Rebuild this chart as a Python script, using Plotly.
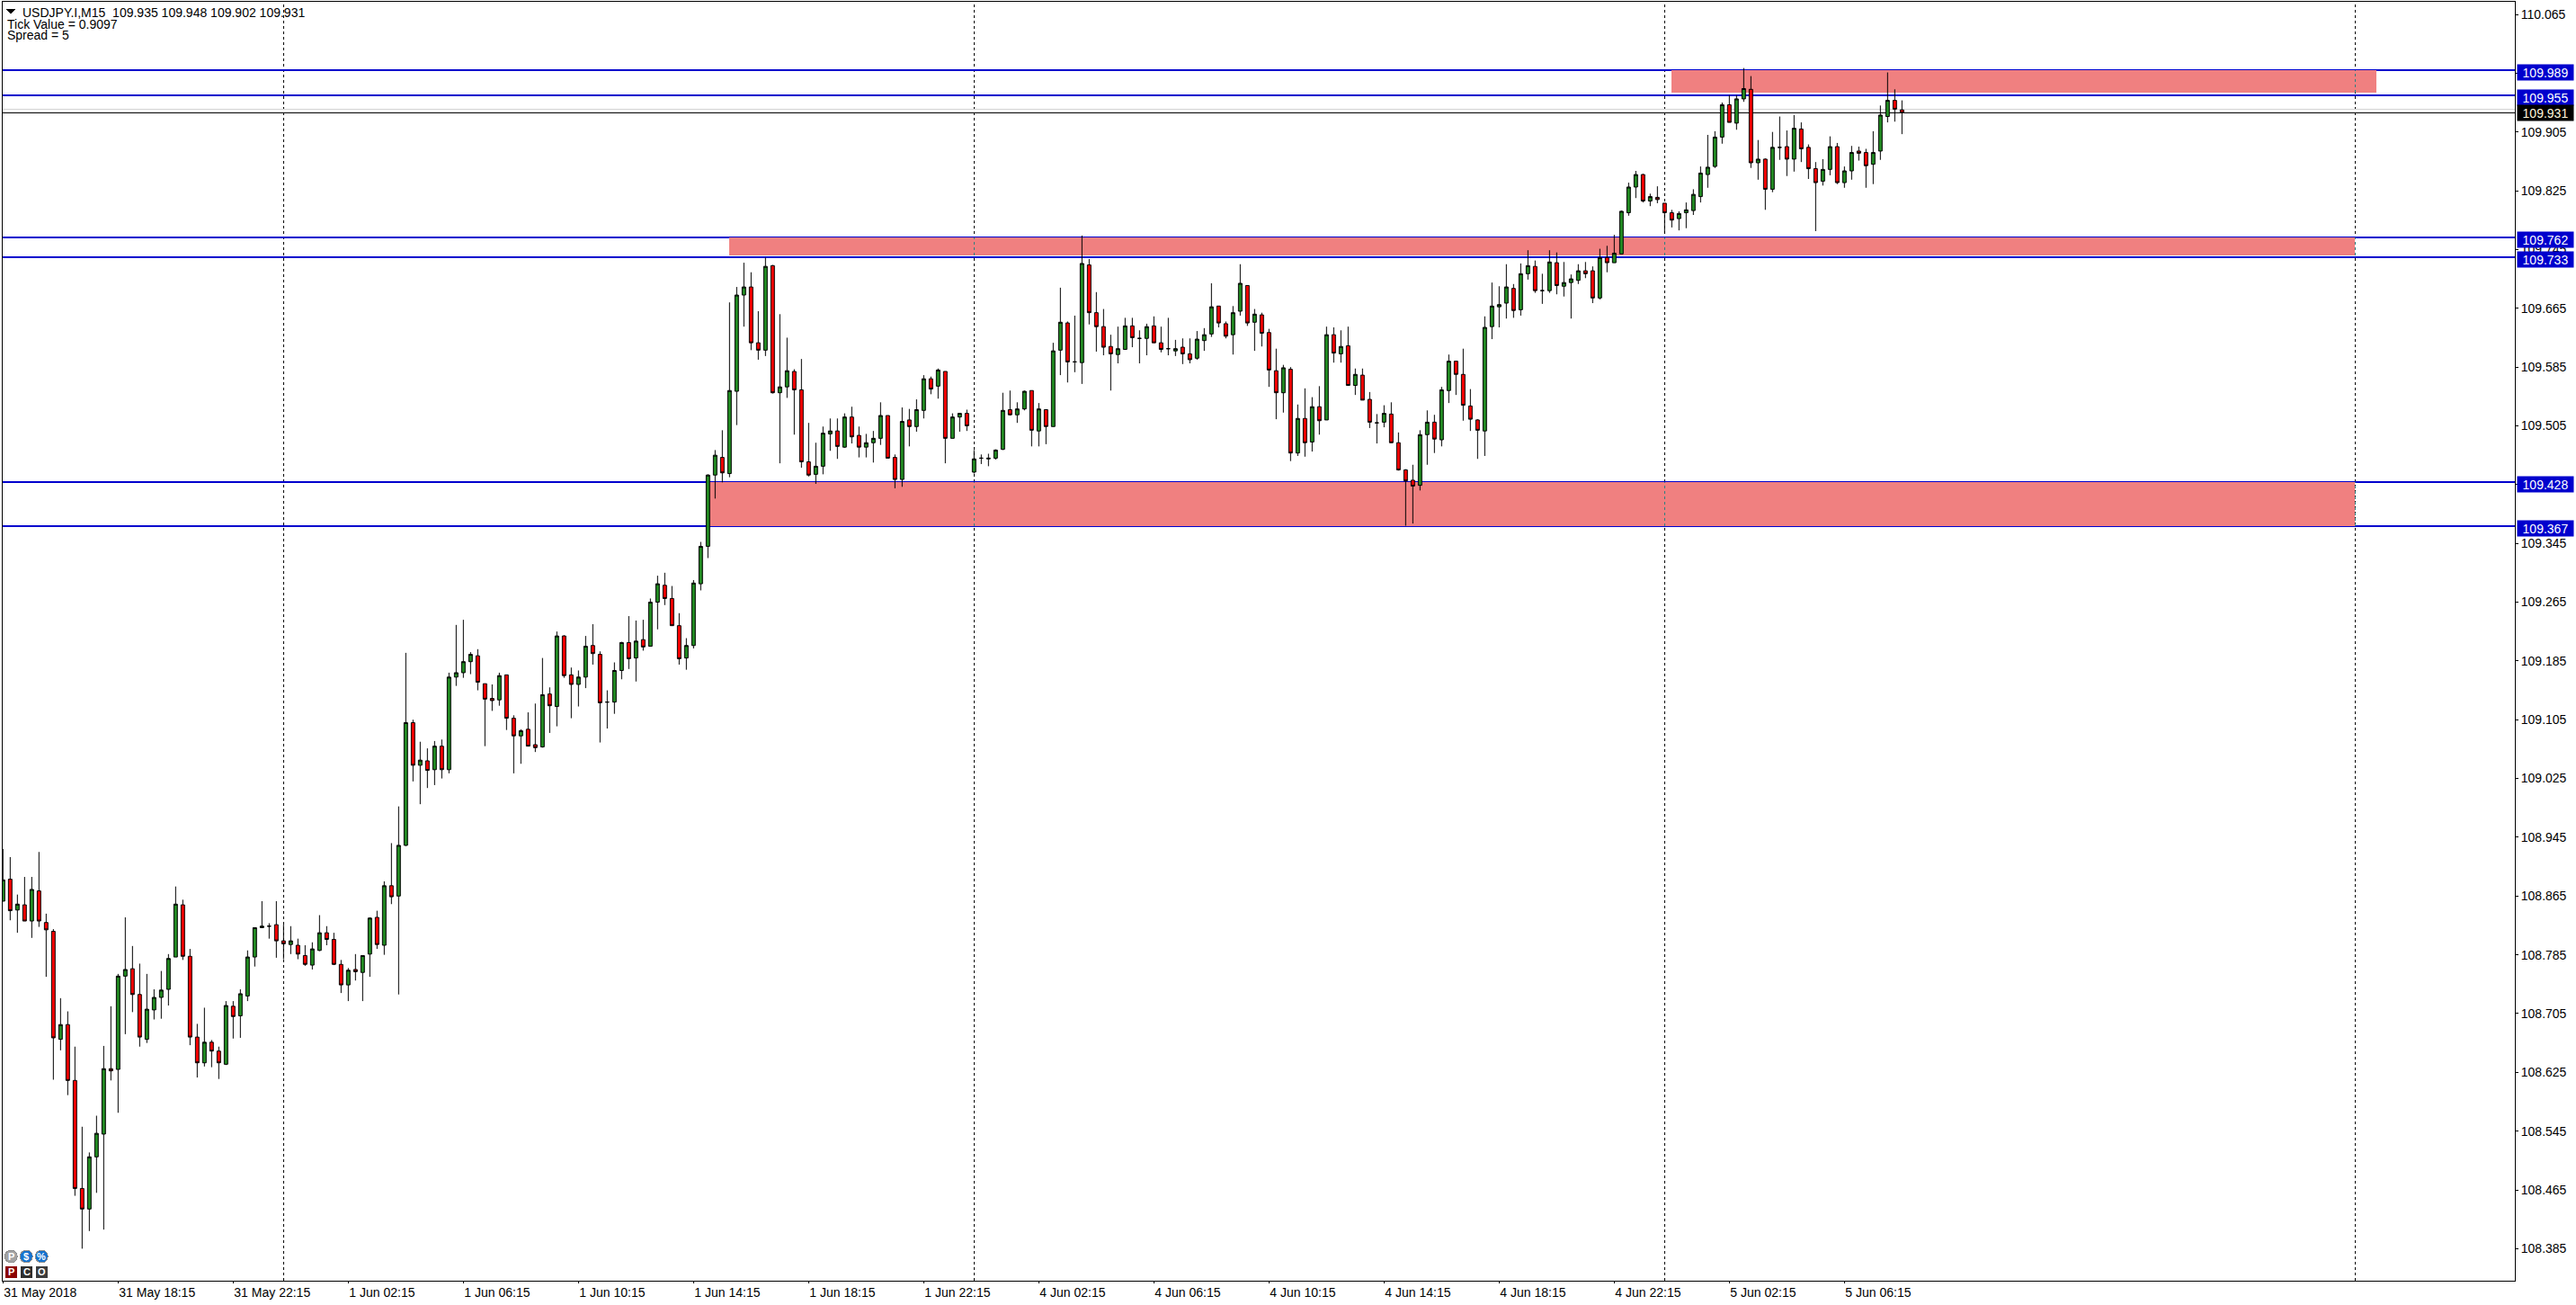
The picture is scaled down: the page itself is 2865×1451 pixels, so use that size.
import plotly.graph_objects as go

W, H = 2865, 1451
ML, MR, MT, MB = 3, 68, 2, 27

opens = [
108.858,108.888,108.846,108.853,108.831,108.872,108.829,108.817,108.670,108.690,
108.614,108.467,108.439,108.510,108.541,108.630,108.629,108.756,108.766,108.731,
108.670,108.710,108.727,108.738,108.782,108.853,108.783,108.673,108.638,108.666,
108.654,108.636,108.715,108.702,108.729,108.782,108.822,108.824,108.826,108.804,
108.799,108.798,108.784,108.771,108.791,108.815,108.806,108.772,108.744,108.765,
108.761,108.786,108.836,108.798,108.879,108.865,108.934,109.101,109.043,109.049,
109.037,109.069,109.037,109.163,109.169,109.184,109.192,109.154,109.134,109.132,
109.166,109.107,109.083,109.092,109.071,109.068,109.140,109.123,109.219,109.166,
109.153,109.163,109.206,109.194,109.129,109.129,109.172,109.210,109.189,109.214,
109.205,109.265,109.288,109.270,109.233,109.189,109.206,109.290,109.341,109.438,
109.462,109.440,109.552,109.683,109.694,109.618,109.608,109.723,109.550,109.558,
109.579,109.554,109.456,109.439,109.450,109.494,109.498,109.476,109.517,109.492,
109.476,109.482,109.488,109.519,109.462,109.432,109.513,109.504,109.526,109.569,
109.559,109.579,109.488,109.517,109.522,109.442,109.461,109.460,109.461,109.473,
109.527,109.520,109.528,109.553,109.498,109.527,109.504,109.608,109.645,109.592,
109.591,109.724,109.659,109.640,109.613,109.602,109.609,109.641,109.624,109.624,
109.641,109.618,109.610,109.607,109.612,109.603,109.597,109.621,109.630,109.668,
109.644,109.629,109.661,109.696,109.646,109.656,109.632,109.580,109.550,109.582,
109.468,109.515,109.483,109.531,109.513,109.629,109.603,109.614,109.560,109.574,
109.541,109.509,109.510,109.521,109.482,109.445,109.431,109.424,109.493,109.510,
109.486,109.553,109.593,109.575,109.532,109.513,109.498,109.640,109.667,109.672,
109.692,109.663,109.712,109.722,109.689,109.689,109.727,109.695,109.700,109.703,
109.716,109.716,109.679,109.734,109.727,109.739,109.795,109.830,109.847,109.811,
109.816,109.808,109.795,109.787,109.795,109.798,109.817,109.847,109.858,109.898,
109.942,109.917,109.950,109.963,109.863,109.868,109.827,109.884,109.885,109.868,
109.909,109.884,109.855,109.838,109.854,109.885,109.836,109.852,109.879,109.877,
109.861,109.879,109.926,109.948,109.935]

highs = [
108.929,108.918,108.867,108.891,108.891,108.925,108.841,108.820,108.726,108.708,
108.660,108.551,108.516,108.566,108.661,108.715,108.759,108.836,108.797,108.773,
108.759,108.738,108.763,108.786,108.878,108.860,108.793,108.691,108.713,108.669,
108.660,108.722,108.722,108.738,108.791,108.822,108.858,108.828,108.858,108.826,
108.824,108.807,108.798,108.802,108.839,108.824,108.815,108.778,108.767,108.786,
108.784,108.836,108.845,108.885,108.937,108.987,109.196,109.105,109.075,109.066,
109.076,109.078,109.169,109.234,109.241,109.197,109.201,109.154,109.153,109.169,
109.166,109.111,109.092,109.115,109.127,109.189,109.149,109.225,109.220,109.176,
109.172,109.219,109.235,109.198,109.145,109.183,109.211,109.246,109.240,109.241,
109.270,109.301,109.305,109.287,109.250,109.216,109.295,109.347,109.439,109.472,
109.499,109.673,109.694,109.727,109.714,109.661,109.734,109.724,109.657,109.625,
109.582,109.596,109.509,109.482,109.504,109.515,109.515,109.522,109.531,109.504,
109.494,109.498,109.537,109.519,109.466,109.530,109.528,109.541,109.574,109.572,
109.583,109.579,109.522,109.522,109.527,109.472,109.466,109.467,109.473,109.550,
109.553,109.537,109.553,109.553,109.536,109.527,109.618,109.693,109.647,109.655,
109.764,109.732,109.687,109.664,109.629,109.640,109.652,109.652,109.635,109.644,
109.654,109.640,109.652,109.622,109.624,109.624,109.634,109.638,109.699,109.668,
109.647,109.668,109.725,109.696,109.664,109.659,109.637,109.610,109.588,109.585,
109.534,109.556,109.544,109.559,109.640,109.639,109.635,109.640,109.583,109.583,
109.551,109.521,109.533,109.537,109.496,109.446,109.452,109.499,109.526,109.520,
109.558,109.602,109.593,109.610,109.555,109.514,109.654,109.700,109.695,109.725,
109.698,109.726,109.744,109.730,109.712,109.744,109.741,109.728,109.711,109.725,
109.728,109.722,109.746,109.750,109.765,109.798,109.836,109.852,109.848,109.821,
109.831,109.808,109.799,109.797,109.809,109.827,109.858,109.901,109.906,109.945,
109.955,109.955,109.992,109.981,109.894,109.869,109.905,109.926,109.907,109.928,
109.918,109.888,109.864,109.868,109.899,109.890,109.858,109.886,109.885,109.882,
109.906,109.941,109.986,109.963,109.948]

lows = [
108.858,108.832,108.815,108.831,108.808,108.823,108.755,108.615,108.655,108.594,
108.457,108.385,108.409,108.461,108.411,108.614,108.570,108.677,108.707,108.660,
108.665,108.697,108.698,108.716,108.782,108.778,108.662,108.618,108.633,108.632,
108.616,108.635,108.671,108.672,108.722,108.769,108.822,108.807,108.781,108.779,
108.786,108.779,108.770,108.765,108.790,108.798,108.771,108.733,108.722,108.750,
108.722,108.755,108.793,108.785,108.854,108.731,108.933,109.021,108.990,109.012,
109.016,109.025,109.032,109.151,109.162,109.167,109.145,109.069,109.117,109.124,
109.091,109.032,109.045,109.069,109.061,109.067,109.087,109.096,109.162,109.107,
109.123,109.148,109.180,109.074,109.093,109.113,109.160,109.174,109.157,109.199,
109.205,109.228,109.261,109.233,109.180,109.173,109.202,109.281,109.325,109.406,
109.428,109.435,109.506,109.640,109.608,109.595,109.600,109.549,109.454,109.543,
109.493,109.448,109.436,109.426,109.439,109.471,109.460,109.475,109.481,109.462,
109.462,109.455,109.479,109.461,109.420,109.422,109.477,109.497,109.515,109.548,
109.542,109.454,109.488,109.497,109.498,109.440,109.453,109.450,109.459,109.472,
109.519,109.509,109.526,109.477,109.477,109.480,109.504,109.574,109.564,109.578,
109.562,109.643,109.606,109.601,109.553,109.590,109.609,109.612,109.590,109.601,
109.618,109.605,109.601,109.600,109.589,109.590,109.595,109.607,109.626,109.639,
109.624,109.602,109.655,109.641,109.607,109.613,109.558,109.514,109.523,109.457,
109.464,109.463,109.470,109.493,109.513,109.591,109.591,109.560,109.547,109.540,
109.502,109.481,109.503,109.482,109.444,109.369,109.372,109.417,109.452,109.468,
109.477,109.536,109.547,109.512,109.498,109.460,109.464,109.623,109.639,109.651,
109.652,109.655,109.704,109.686,109.671,109.686,109.684,109.681,109.651,109.698,
109.706,109.672,109.677,109.714,109.727,109.739,109.791,109.815,109.809,109.804,
109.808,109.767,109.775,109.771,109.774,109.792,109.809,109.829,109.856,109.889,
109.918,109.908,109.946,109.856,109.840,109.799,109.823,109.867,109.845,109.851,
109.864,109.841,109.770,109.832,109.846,109.834,109.829,109.840,109.866,109.829,
109.834,109.867,109.918,109.919,109.902]

closes = [
108.887,108.845,108.854,108.831,108.874,108.831,108.819,108.672,108.690,108.614,
108.467,108.439,108.510,108.542,108.630,108.627,108.756,108.765,108.731,108.673,
108.711,108.727,108.737,108.780,108.854,108.783,108.673,108.638,108.666,108.654,
108.638,108.716,108.701,108.732,108.782,108.822,108.824,108.824,108.804,108.800,
108.804,108.786,108.772,108.793,108.815,108.806,108.772,108.744,108.764,108.762,
108.784,108.835,108.799,108.879,108.864,108.934,109.101,109.043,109.050,109.036,
109.069,109.037,109.163,109.169,109.184,109.194,109.156,109.133,109.131,109.165,
109.107,109.083,109.090,109.069,109.067,109.139,109.124,109.219,109.165,109.153,
109.163,109.205,109.195,109.128,109.129,109.172,109.210,109.188,109.212,109.204,
109.265,109.290,109.270,109.233,109.188,109.206,109.291,109.341,109.438,109.465,
109.441,109.553,109.683,109.694,109.618,109.608,109.722,109.550,109.558,109.580,
109.554,109.456,109.438,109.450,109.495,109.498,109.477,109.517,109.490,109.476,
109.482,109.488,109.519,109.461,109.432,109.511,109.504,109.527,109.569,109.555,
109.581,109.488,109.517,109.522,109.505,109.460,109.461,109.461,109.472,109.526,
109.520,109.528,109.552,109.499,109.528,109.504,109.607,109.646,109.592,109.592,
109.726,109.659,109.640,109.612,109.603,109.610,109.641,109.625,109.624,109.640,
109.618,109.609,109.610,109.610,109.603,109.595,109.623,109.629,109.667,109.645,
109.627,109.659,109.699,109.645,109.657,109.631,109.581,109.550,109.584,109.468,
109.515,109.482,109.531,109.512,109.629,109.604,109.613,109.560,109.575,109.540,
109.510,109.509,109.522,109.482,109.445,109.430,109.423,109.493,109.510,109.487,
109.554,109.593,109.575,109.533,109.514,109.499,109.639,109.668,109.670,109.694,
109.662,109.712,109.723,109.689,109.689,109.728,109.696,109.700,109.705,109.716,
109.712,109.679,109.734,109.727,109.740,109.797,109.830,109.847,109.811,109.817,
109.813,109.795,109.785,109.794,109.799,109.820,109.849,109.857,109.898,109.942,
109.918,109.950,109.964,109.863,109.868,109.827,109.884,109.884,109.868,109.910,
109.882,109.855,109.836,109.854,109.885,109.836,109.852,109.877,109.876,109.859,
109.877,109.928,109.948,109.936,109.931]

bar_index = list(range(len(closes)))

# horizontal levels and shaded zones
level_prices = [109.989, 109.955, 109.762, 109.7345, 109.4285, 109.3685]
level_labels = ["109.989", "109.955", "109.762", "109.733", "109.428", "109.367"]
zone_tops = [109.4285, 109.762, 109.989]
zone_bottoms = [109.3685, 109.737, 109.958]
zone_starts = [98, 101, 232]
zone_ends = [327, 327, 330]
day_breaks = [39, 135, 231, 327]
last_price = 109.931
ask_price = 109.936

y_ticks = [110.065, 109.985, 109.905, 109.825, 109.745, 109.665, 109.585, 109.505,
           109.425, 109.345, 109.265, 109.185, 109.105, 109.025, 108.945, 108.865,
           108.785, 108.705, 108.625, 108.545, 108.465, 108.385]
y_tick_labels = ["%.3f" % v for v in y_ticks]
x_ticks = [0, 16, 32, 48, 64, 80, 96, 112, 128, 144, 160, 176, 192, 208, 224, 240, 256]
x_tick_labels = ["31 May 2018", "31 May 18:15", "31 May 22:15", "1 Jun 02:15", "1 Jun 06:15",
                 "1 Jun 10:15", "1 Jun 14:15", "1 Jun 18:15", "1 Jun 22:15", "4 Jun 02:15",
                 "4 Jun 06:15", "4 Jun 10:15", "4 Jun 14:15", "4 Jun 18:15", "4 Jun 22:15",
                 "5 Jun 02:15", "5 Jun 06:15"]
header_lines = ["USDJPY.I,M15  109.935 109.948 109.902 109.931", "Tick Value = 0.9097", "Spread = 5"]

FONT = "Liberation Sans"
PX = 816.9
px = lambda x: (x - ML) / (W - ML - MR)
py = lambda y: 1 - (y - MT) / (H - MT - MB)

BLUE = "#0000CD"
fig = go.Figure(go.Candlestick(
    x=bar_index, open=opens, high=highs, low=lows, close=closes,
    increasing=dict(line=dict(color="black", width=1), fillcolor="#228B22"),
    decreasing=dict(line=dict(color="black", width=1), fillcolor="#FF0000"),
    whiskerwidth=0, hoverinfo="skip", showlegend=False,
))

shapes = []
for d in day_breaks:
    shapes.append(dict(type="line", layer="below", xref="x", yref="paper", x0=d, x1=d, y0=0, y1=1,
                       line=dict(color="black", width=1, dash="3px,3px")))
for a, b, s, e in zip(zone_bottoms, zone_tops, zone_starts, zone_ends):
    shapes.append(dict(type="rect", layer="below", xref="x", yref="y", x0=s, x1=e, y0=a, y1=b,
                       fillcolor="#F08080", line=dict(width=0)))
for d in day_breaks:
    for a, b, s, e in zip(zone_bottoms, zone_tops, zone_starts, zone_ends):
        if s <= d <= e:
            shapes.append(dict(type="line", layer="below", xref="x", yref="y", x0=d, x1=d, y0=a, y1=b,
                               line=dict(color="#2F8080", width=1, dash="3px,3px")))
shapes.append(dict(type="line", layer="below", xref="paper", yref="y", x0=0, x1=1, y0=ask_price, y1=ask_price,
                   line=dict(color="#D3D3D3", width=1)))
shapes.append(dict(type="line", layer="below", xref="paper", yref="y", x0=0, x1=1, y0=last_price, y1=last_price,
                   line=dict(color="black", width=1)))
for p in level_prices:
    shapes.append(dict(type="line", layer="below", xref="paper", yref="y", x0=0, x1=1, y0=p, y1=p,
                       line=dict(color=BLUE, width=2)))

annotations = []
def tag(price, text, bg, fg, shift):
    annotations.append(dict(xref="paper", yref="y", x=px(2799), y=price, text=text, showarrow=False,
                            xanchor="left", yanchor="middle", yshift=shift, width=62, height=17,
                            align="center", valign="middle", bgcolor=bg, borderpad=0,
                            font=dict(family=FONT, size=14, color=fg)))
for p, t in zip(level_prices, level_labels):
    tag(p, t, BLUE, "white", -2.5)
tag(last_price, "%.3f" % last_price, "black", "#FFF8DC", 0)

for text, yc in zip(header_lines, [14, 27, 39]):
    annotations.append(dict(xref="paper", yref="paper", x=px(24 if yc == 14 else 7), y=py(yc), text=text,
                            showarrow=False, xanchor="left", yanchor="middle", borderpad=0,
                            font=dict(family=FONT, size=14, color="black")))
# header triangle
shapes.append(dict(type="path", xref="paper", yref="paper",
                   path="M %f %f L %f %f L %f %f Z" % (px(7), py(10.5), px(17), py(10.5), px(12), py(15.5)),
                   fillcolor="black", line=dict(width=0)))

# one-click buttons in the corner
for cx, col, ch in zip([12.3, 29.3, 46.3], ["#A3A3A3", "#1573CF", "#1573CF"], ["P", "$", "%"]):
    shapes.append(dict(type="circle", xref="paper", yref="paper", x0=px(cx - 7), x1=px(cx + 7),
                       y0=py(1397 + 7), y1=py(1397 - 7), fillcolor=col, line=dict(color="#8F8F8F", width=1)))
    annotations.append(dict(xref="paper", yref="paper", x=px(cx), y=py(1397), text="<b>%s</b>" % ch, showarrow=False,
                            xanchor="center", yanchor="middle", borderpad=0,
                            font=dict(family=FONT, size=11, color="white")))
for cx, col, ch in zip([12.5, 29.5, 46.5], ["#8B0000", "#2E2E2E", "#3C3C3C"], ["P", "C", "O"]):
    shapes.append(dict(type="rect", xref="paper", yref="paper", x0=px(cx - 6.5), x1=px(cx + 6.5),
                       y0=py(1414 + 6.5), y1=py(1414 - 6.5), fillcolor=col, line=dict(width=0)))
    annotations.append(dict(xref="paper", yref="paper", x=px(cx), y=py(1414), text="<b>%s</b>" % ch, showarrow=False,
                            xanchor="center", yanchor="middle", borderpad=0,
                            font=dict(family=FONT, size=11, color="white")))

y_top = 110.065 + (16 - MT) / PX
y_bot = 110.065 - (H - MB - 16) / PX
x_left = (ML - 3.33) / 8
x_right = (W - MR - 3.33) / 8

fig.update_layout(
    width=W, height=H,
    margin=dict(l=ML, r=MR, t=MT, b=MB, pad=0),
    paper_bgcolor="white", plot_bgcolor="white",
    font=dict(family=FONT, size=14, color="black"),
    shapes=shapes, annotations=annotations,
    boxgap=0.3,
    xaxis=dict(type="linear", range=[x_left, x_right], rangeslider=dict(visible=False),
               tickmode="array", tickvals=x_ticks, ticktext=x_tick_labels,
               ticks="outside", ticklen=2, tickcolor="black", tickwidth=1,
               ticklabelposition="outside right", showgrid=False, zeroline=False,
               showline=True, linecolor="black", linewidth=1, mirror=True,
               tickfont=dict(family=FONT, size=14, color="black")),
    yaxis=dict(side="right", range=[y_bot, y_top], tickmode="array", tickvals=y_ticks, ticktext=y_tick_labels,
               ticks="outside", ticklen=3, tickcolor="black", tickwidth=1,
               showgrid=False, zeroline=False,
               showline=True, linecolor="black", linewidth=1, mirror=True,
               tickfont=dict(family=FONT, size=14, color="black")),
)

crisp = ("var crisp=function(){document.querySelectorAll('.shapelayer path').forEach(function(p){"
         "p.style.shapeRendering='crispEdges';});};crisp();setTimeout(crisp,100);")
fig.write_html("out.html", config=dict(displayModeBar=False),
               post_script="document.body.style.margin='0';document.documentElement.style.overflow='hidden';" + crisp)
